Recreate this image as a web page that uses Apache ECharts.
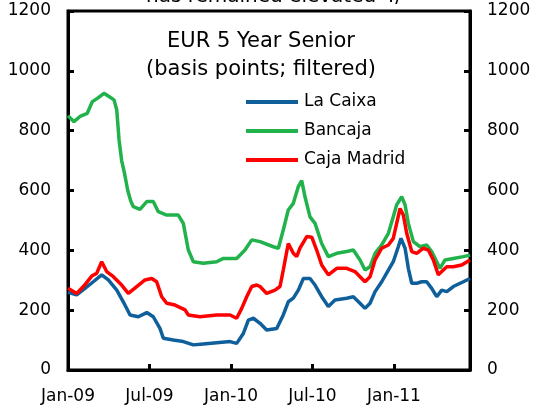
<!DOCTYPE html>
<html>
<head>
<meta charset="utf-8">
<script src="https://cdn.jsdelivr.net/npm/echarts@6/dist/echarts.min.js"></script>
<style>
  html, body { margin: 0; padding: 0; background: #fff; }
  #main { width: 536px; height: 409px; }
</style>
</head>
<body>
<div id="main"></div>
<script>
// x positions are months since Jan-09
const tickLabels = ["Jan-09", "Jul-09", "Jan-10", "Jul-10", "Jan-11"];
const yTicks = [0, 200, 400, 600, 800, 1000, 1200];
const seriesNames = ["La Caixa", "Bancaja", "Caja Madrid"];

const caixaMonths = [0.0,0.64,1.25,1.86,2.48,2.97,3.59,4.07,4.57,5.18,5.80,6.28,6.77,7.02,7.75,8.49,9.23,9.96,10.95,11.93,12.42,12.91,13.28,13.65,14.14,14.63,15.37,15.85,16.22,16.59,16.96,17.33,17.82,18.19,18.68,19.17,19.66,20.52,21.01,21.50,21.87,22.24,22.61,23.10,23.59,23.95,24.32,24.52,24.82,25.06,25.31,25.68,26.05,26.41,26.78,27.15,27.52,27.89,28.37,29.11,29.6];
const caixaBp = [260,251,273,295,318,301,267,228,184,178,192,178,139,106,100,95,84,87,91,95,89,122,167,173,156,134,139,184,228,240,267,306,306,284,245,212,234,240,245,223,206,223,262,295,334,362,412,440,407,340,290,290,295,295,273,245,267,262,279,295,306];

const bancajaMonths = [0.0,0.44,0.93,1.42,1.79,2.16,2.65,3.02,3.39,3.59,3.76,3.95,4.15,4.40,4.62,4.81,5.30,5.80,6.28,6.65,7.27,8.12,8.49,8.86,9.23,9.96,10.95,11.44,12.42,13.03,13.53,14.14,15.12,15.49,15.85,16.22,16.59,16.96,17.21,17.45,17.82,18.19,18.68,19.17,19.79,20.52,21.01,21.5,21.87,22.24,22.61,23.10,23.59,23.95,24.20,24.57,24.82,25.06,25.43,25.92,26.41,26.78,27.15,27.39,27.76,28.37,29.11,29.6];
const bancajaBp = [850,830,849,858,897,908,925,914,903,869,769,700,660,600,565,546,537,563,563,529,518,518,490,401,362,357,362,373,373,401,435,429,412,407,468,535,557,613,633,579,512,490,423,379,390,396,401,368,334,345,390,418,457,512,552,579,552,490,429,412,418,396,362,340,368,373,379,384];

const madridMonths = [0.0,0.64,1.13,1.75,2.11,2.48,2.85,3.34,3.95,4.44,5.06,5.67,6.16,6.53,6.90,7.27,7.88,8.62,8.86,9.72,10.95,11.93,12.42,12.79,13.16,13.53,13.90,14.14,14.63,15.24,15.61,15.85,16.22,16.59,16.84,17.08,17.58,17.95,18.31,18.68,19.17,19.79,20.52,21.13,21.50,21.87,22.24,22.61,23.10,23.59,23.95,24.20,24.45,24.69,24.94,25.31,25.68,26.16,26.53,26.90,27.27,27.52,27.89,28.37,28.99,29.6];
const madridBp = [273,256,279,314,323,362,329,312,284,256,279,301,306,295,245,223,217,201,184,178,184,184,173,206,245,279,284,279,256,267,279,334,423,390,379,407,446,444,401,351,318,340,340,329,312,295,312,368,407,418,440,490,540,518,457,396,390,407,401,368,318,329,345,345,351,368];

const colors = ["#0f5f9b", "#21b24b", "#ff0000"];
const font = "DejaVu Sans";

function pairs(xs, ys) {
  return xs.map((x, i) => [x, ys[i]]);
}

var myChart = echarts.init(document.getElementById("main"));

const yAxisBase = {
  type: "value",
  min: yTicks[0],
  max: yTicks[yTicks.length - 1],
  interval: 200,
  splitLine: { show: false },
  axisLine: { show: true, lineStyle: { color: "#000", width: 3 } },
  axisTick: { show: true, inside: true, length: 6, lineStyle: { color: "#000", width: 3 } },
  axisLabel: { color: "#000", fontSize: 17, fontFamily: font, margin: 17, formatter: v => String(v) }
};

myChart.setOption({
  animation: false,
  color: colors,
  grid: {
    left: 68, right: 66, top: 11, bottom: 39,
    show: true, borderColor: "#000", borderWidth: 3
  },
  graphic: [
    {
      // heading above the chart, cut off by the top edge
      type: "text", x: 274, y: -13,
      style: { text: "has remained elevated 4/", font: "20px DejaVu Sans", fill: "#000", align: "center", verticalAlign: "top" }
    },
    {
      type: "text", x: 261, y: 28,
      style: {
        text: "EUR 5 Year Senior\n(basis points; filtered)",
        font: "21px DejaVu Sans", fill: "#000",
        align: "center", verticalAlign: "top", lineHeight: 28
      }
    }
  ],
  legend: {
    data: seriesNames,
    orient: "vertical",
    left: 241, top: 87,
    icon: "rect",
    itemWidth: 52, itemHeight: 4,
    itemGap: 9,
    textStyle: { color: "#000", fontSize: 17, fontFamily: font, lineHeight: 20, padding: [0, 0, 0, 1] }
  },
  xAxis: {
    type: "value",
    min: 0, max: 29.6, interval: 6,
    splitLine: { show: false },
    axisLine: { show: true, lineStyle: { color: "#000", width: 3 } },
    axisTick: { show: true, inside: true, length: 6, lineStyle: { color: "#000", width: 3 } },
    axisLabel: {
      color: "#000", fontSize: 17, fontFamily: font, margin: 18,
      formatter: v => (v % 6 === 0 ? tickLabels[v / 6] || "" : "")
    }
  },
  yAxis: [
    Object.assign({}, yAxisBase, { position: "left" }),
    Object.assign({}, yAxisBase, { position: "right" })
  ],
  series: [
    { name: seriesNames[0], type: "line", showSymbol: false, data: pairs(caixaMonths, caixaBp), lineStyle: { width: 3.5 } },
    { name: seriesNames[1], type: "line", showSymbol: false, data: pairs(bancajaMonths, bancajaBp), lineStyle: { width: 3.5 } },
    { name: seriesNames[2], type: "line", showSymbol: false, data: pairs(madridMonths, madridBp), lineStyle: { width: 3.5 } }
  ]
});
</script>
</body>
</html>
